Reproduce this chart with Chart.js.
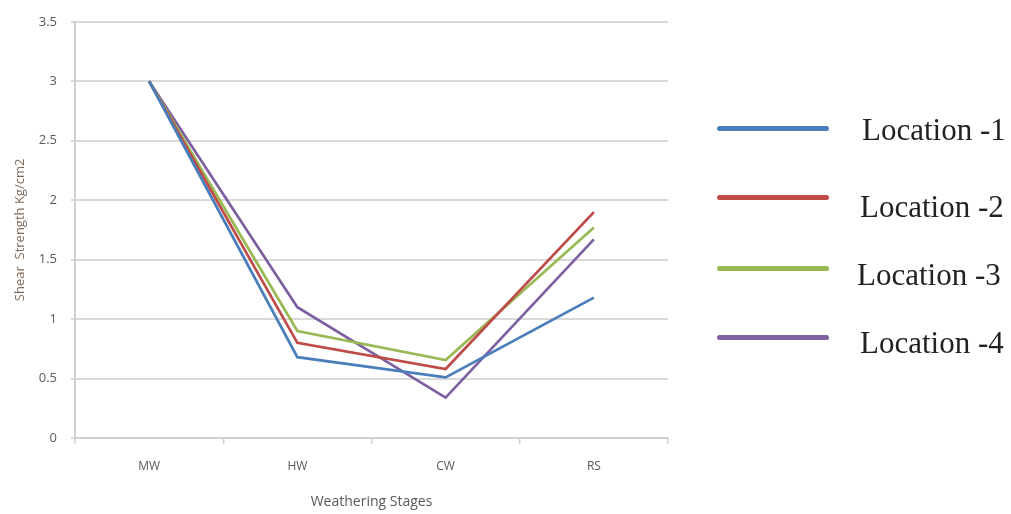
<!DOCTYPE html>
<html>
<head>
<meta charset="utf-8">
<script src="https://cdn.jsdelivr.net/npm/chart.js@4.4.1/dist/chart.umd.min.js"></script>
<style>
  html, body { margin: 0; padding: 0; background: #fff; }
  #wrap { position: relative; width: 1011px; height: 514px; }
  #legend { position: absolute; left: 0; top: 0; list-style: none; margin: 0; padding: 0; }
  #legend li { position: absolute; left: 717px; width: 294px; height: 40px; }
  #legend .swatch { position: absolute; left: 0; width: 112px; height: 5px; border-radius: 3px; }
  #legend .txt { position: absolute; font-family: "Liberation Serif", "DejaVu Serif", serif; font-size: 31px; line-height: 40px; color: #222; white-space: nowrap; }
</style>
</head>
<body>
<div id="wrap">
  <canvas id="chart" width="1011" height="514"></canvas>
  <ul id="legend"></ul>
</div>
<script>
// Weathering stages and shear strength per location
const stages = ['MW', 'HW', 'CW', 'RS'];
const seriesNames = ['Location -1', 'Location -2', 'Location -3', 'Location -4'];
const location1 = [3, 0.68, 0.51, 1.18];
const location2 = [3, 0.80, 0.58, 1.90];
const location3 = [3, 0.90, 0.655, 1.77];
const location4 = [3, 1.10, 0.34, 1.67];
const yTicks = [0, 0.5, 1, 1.5, 2, 2.5, 3, 3.5];

const colors = ['#4a7ebb', '#be4b48', '#98b954', '#7d60a0'];
const allData = [location1, location2, location3, location4];

const ctx = document.getElementById('chart').getContext('2d');
new Chart(ctx, {
  type: 'line',
  data: {
    labels: stages,
    datasets: allData.map((d, i) => ({
      label: seriesNames[i],
      data: d,
      borderColor: colors[i],
      backgroundColor: colors[i],
      borderWidth: 2.7,
      pointRadius: 0,
      tension: 0
    }))
  },
  options: {
    responsive: false,
    animation: false,
    layout: { padding: { left: 0, right: 343, top: 14, bottom: 0 } },
    plugins: {
      legend: { display: false },
      tooltip: { enabled: false }
    },
    scales: {
      x: {
        offset: true,
        grid: {
          offset: true,
          drawOnChartArea: false,
          color: '#d0d0d0',
          lineWidth: 1.5,
          tickLength: 6
        },
        border: { color: '#d0d0d0', width: 2 },
        ticks: {
          color: '#595959',
          font: { family: 'Open Sans', size: 12 },
          padding: 15
        },
        title: {
          display: true,
          text: 'Weathering Stages',
          color: '#595959',
          font: { family: 'Open Sans', size: 14 },
          padding: { top: 8 }
        },
        afterFit: s => { s.height = 76; }
      },
      y: {
        min: 0,
        max: 3.5,
        afterBuildTicks: s => { s.ticks = yTicks.map(v => ({ value: v })); },
        grid: {
          color: '#d9d9d9',
          lineWidth: 2,
          tickLength: 4
        },
        border: { color: '#d0d0d0', width: 2 },
        ticks: {
          color: '#595959',
          font: { family: 'Open Sans', size: 13 },
          padding: 14,
          callback: v => String(v)
        },
        title: {
          display: true,
          text: 'Shear  Strength Kg/cm2',
          color: '#7f6a5a',
          font: { family: 'Open Sans', size: 13 },
          padding: { top: 12, bottom: 0 }
        },
        afterFit: s => { s.width = 75; }
      }
    }
  }
});

// Legend on the right
const lineTops = [126, 195, 266, 335];
const textTops = [110, 187, 255, 323];
const textLefts = [145, 143, 140, 143];
document.getElementById('legend').innerHTML = seriesNames.map((n, i) =>
  `<li style="top:0">
     <span class="swatch" style="top:${lineTops[i]}px;background:${colors[i]}"></span>
     <span class="txt" style="top:${textTops[i]}px;left:${textLefts[i]}px">${n}</span>
   </li>`
).join('');
</script>
</body>
</html>
